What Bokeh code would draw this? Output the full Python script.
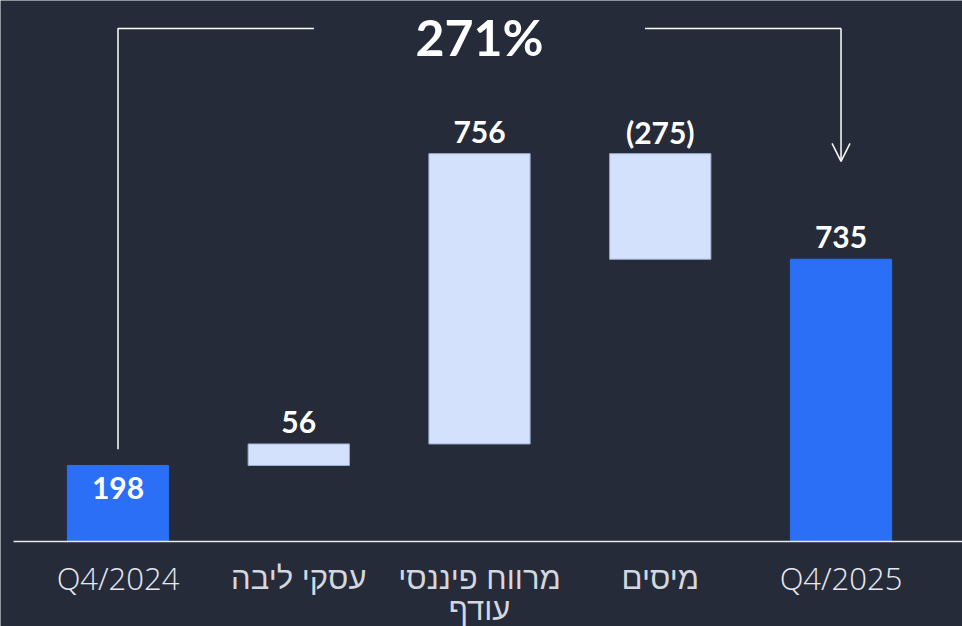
from bokeh.plotting import figure
from bokeh.models import ColumnDataSource, Range1d, Arrow, OpenHead
from bokeh.core.properties import value
from bokeh.embed import file_html
from bokeh.resources import INLINE

# ---- data ----
categories = ["Q4/2024", "עסקי ליבה", "מרווח פיננסי\nעודף", "מיסים", "Q4/2025"]
changes = [198, 56, 756, -275, 735]
kinds = ["total", "delta", "delta", "delta", "total"]
value_labels = ["198", "56", "756", "(275)", "735"]
growth_label = "271%"

BG = "#262b3a"
BLUE = "#2a6ff6"
LIGHT = "#d3e1fc"
WHITE = "#ffffff"
AXIS = "#e6e8ee"

# waterfall geometry derived from the data
xs, bottoms, tops, colors, edges = [], [], [], [], []
running = 0
for i, (c, k) in enumerate(zip(changes, kinds)):
    if k == "total":
        b, t = 0, c
        running = c
        colors.append(BLUE); edges.append(BLUE)
    else:
        b, t = running, running + c
        running += c
        colors.append(LIGHT); edges.append("#9fb0d0")
    xs.append(i)
    bottoms.append(min(b, t))
    tops.append(max(b, t))

src = ColumnDataSource(dict(x=xs, bottom=bottoms, top=tops, color=colors, edge=edges))

p = figure(width=962, height=626, output_backend="svg", toolbar_location=None,
           x_range=Range1d(-0.650, 4.672), y_range=Range1d(-221.4, 1408.9),
           min_border=0, min_border_left=0, min_border_right=0,
           min_border_top=0, min_border_bottom=0)
p.background_fill_color = BG
p.border_fill_color = BG
p.outline_line_color = None
p.axis.visible = False
p.grid.visible = False

p.vbar(x="x", bottom="bottom", top="top", width=0.56, fill_color="color",
       line_color="edge", line_width=1, source=src)

# baseline (x axis line)
p.segment(x0=[-0.578], x1=[4.672], y0=[0], y1=[0], line_color=AXIS, line_width=1.5)

# value labels
lab_x, lab_y, lab_off = [], [], []
for i in range(len(changes)):
    lab_x.append(i)
    lab_y.append(tops[i])
    lab_off.append(23 if i == 0 else -22)
p.text(x=lab_x, y=lab_y, text=value_labels, y_offset=lab_off,
       text_align="center", text_baseline="middle",
       text_color=WHITE, text_font=value("Lato"), text_font_style="bold",
       text_font_size="30px")

# category labels (multi-line split); Latin and Hebrew get different faces
cx, cy, ct, coff, cfont, ccol = [], [], [], [], [], []
for i, c in enumerate(categories):
    for j, line in enumerate(c.split("\n")):
        cx.append(i); cy.append(0); ct.append(line); coff.append(37 + 31 * j)
        hebrew = any("\u0590" <= ch <= "\u05ff" for ch in line)
        cfont.append("'DejaVu Sans ExtraLight', 'Liberation Sans'" if hebrew
                     else "'Open Sans Light', 'Open Sans'")
        ccol.append("#d4d7df" if hebrew else AXIS)
csrc = ColumnDataSource(dict(x=cx, y=cy, text=ct, off=coff, font=cfont, col=ccol))
p.text(x="x", y="y", text="text", y_offset="off", text_font="font", source=csrc,
       text_align="center", text_baseline="middle", text_color="col",
       text_font_style="normal", text_font_size="31px")

# growth bracket
first, last = 0, len(categories) - 1
mid = (first + last) / 2
half_gap = 0.916
y_top = 1336
p.line(x=[first, first, mid - half_gap], y=[tops[0] + 42, y_top, y_top],
       line_color=WHITE, line_width=1.5)
p.line(x=[mid + half_gap, last], y=[y_top, y_top], line_color=WHITE, line_width=1.5)
p.add_layout(Arrow(x_start=last, y_start=y_top, x_end=last, y_end=990,
                   line_color=WHITE, line_width=1.5,
                   end=OpenHead(size=18, line_color=WHITE, line_width=1.5)))
p.text(x=[mid], y=[y_top], text=[growth_label], y_offset=[9], text_align="center",
       text_baseline="middle", text_color=WHITE, text_font=value("Lato"),
       text_font_style="bold", text_font_size="50px")

open("out.html", "w").write(file_html(p, INLINE))
